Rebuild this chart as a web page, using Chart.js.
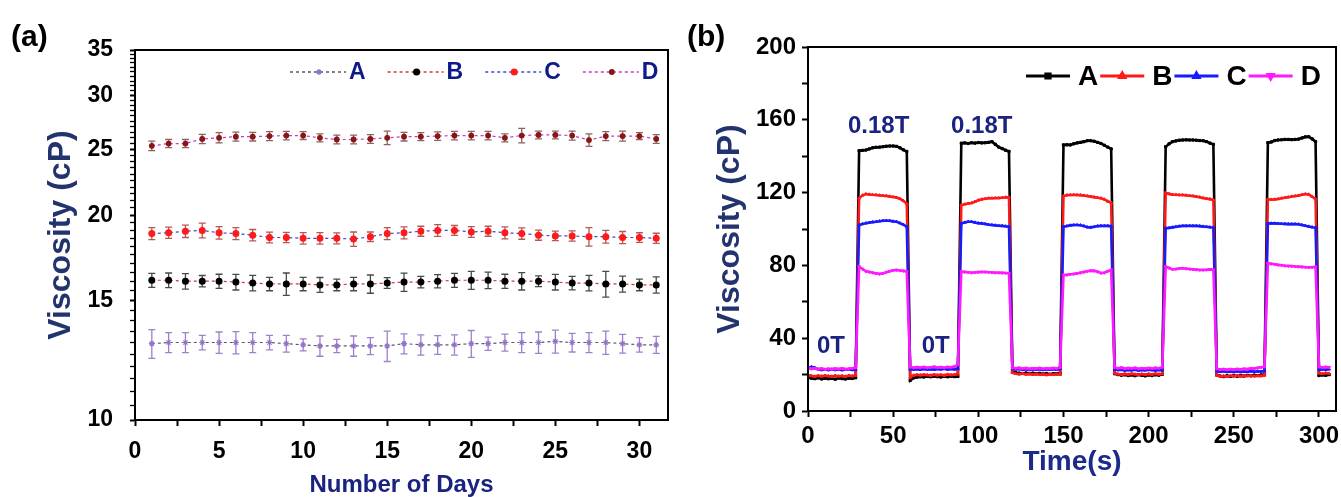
<!DOCTYPE html>
<html><head><meta charset="utf-8">
<script src="https://cdn.jsdelivr.net/npm/chart.js@4.4.1/dist/chart.umd.min.js"></script>
<style>
html,body{margin:0;padding:0;background:#fff;width:1341px;height:497px;overflow:hidden;}
#wa{position:absolute;left:0;top:0;width:680px;height:497px;}
#wb{position:absolute;left:680px;top:0;width:661px;height:497px;}
</style></head><body>
<div id="wa"><canvas id="ca" width="680" height="497"></canvas></div>
<div id="wb"><canvas id="cb" width="661" height="497"></canvas></div>
<script>
// ---------- Panel (a) data ----------
const days = [1,2,3,4,5,6,7,8,9,10,11,12,13,14,15,16,17,18,19,20,21,22,23,24,25,26,27,28,29,30,31];
const viscA = [12.95,13.0,13.0,13.0,13.0,13.0,13.0,13.0,12.95,12.9,12.85,12.85,12.85,12.85,12.85,12.95,12.9,12.9,12.9,12.95,12.95,13.0,13.0,13.0,13.05,13.0,13.0,13.0,12.95,12.9,12.9];
const errA  = [0.63,0.44,0.44,0.32,0.47,0.49,0.44,0.32,0.37,0.26,0.44,0.29,0.44,0.37,0.66,0.44,0.44,0.41,0.44,0.59,0.29,0.37,0.44,0.47,0.51,0.41,0.44,0.51,0.41,0.32,0.37];
const viscB = [16.05,16.05,16.0,16.0,16.0,15.95,15.9,15.85,15.85,15.85,15.8,15.8,15.85,15.85,15.9,15.95,15.95,16.0,16.05,16.05,16.05,16.0,16.0,16.0,15.95,15.9,15.9,15.85,15.85,15.8,15.8];
const errB  = [0.38,0.40,0.42,0.31,0.38,0.42,0.42,0.36,0.60,0.36,0.40,0.31,0.36,0.49,0.29,0.49,0.31,0.36,0.38,0.49,0.45,0.38,0.47,0.29,0.42,0.36,0.42,0.69,0.43,0.31,0.43];
const viscC = [18.8,18.85,18.95,19.0,18.85,18.8,18.7,18.55,18.55,18.5,18.5,18.5,18.45,18.6,18.8,18.85,18.95,19.0,19.0,18.9,18.95,18.85,18.8,18.7,18.65,18.65,18.6,18.6,18.55,18.55,18.5];
const errC  = [0.38,0.36,0.40,0.47,0.40,0.38,0.36,0.34,0.32,0.36,0.36,0.34,0.45,0.30,0.38,0.38,0.32,0.38,0.32,0.34,0.32,0.38,0.36,0.32,0.30,0.32,0.58,0.40,0.38,0.30,0.32];
const viscD = [25.3,25.5,25.5,25.9,26.0,26.1,26.1,26.15,26.2,26.2,26.0,25.85,25.85,25.9,26.0,26.1,26.1,26.15,26.2,26.2,26.2,26.0,26.2,26.25,26.25,26.2,25.8,26.15,26.15,26.15,25.9];
const errD  = [0.40,0.35,0.35,0.40,0.45,0.40,0.38,0.40,0.38,0.35,0.35,0.38,0.38,0.38,0.60,0.38,0.35,0.38,0.38,0.38,0.38,0.35,0.65,0.35,0.35,0.40,0.55,0.40,0.45,0.30,0.38];
const dayLabels  = [0,5,10,15,20,25,30];
const viscLabelsA = [10,15,20,25,30,35];

// ---------- Panel (b) data ----------
const timeB = [0,2,4,6,8,10,12,14,16,18,20,22,24,26,28,
30,32,34,36,38,40,42,44,46,48,50,52,54,56,58,
60,62,64,66,68,70,72,74,76,78,80,82,84,86,88,
90,92,94,96,98,100,102,104,106,108,110,112,114,116,118,
120,122,124,126,128,130,132,134,136,138,140,142,144,146,148,
150,152,154,156,158,160,162,164,166,168,170,172,174,176,178,
180,182,184,186,188,190,192,194,196,198,200,202,204,206,208,
210,212,214,216,218,220,222,224,226,228,230,232,234,236,238,
240,242,244,246,248,250,252,254,256,258,260,262,264,266,268,
270,272,274,276,278,280,282,284,286,288,290,292,294,296,298,
300,302,304,306];
const bA = [18.5,18.0,17.8,18.2,17.6,18.0,17.7,17.9,17.5,18.1,17.8,17.6,18.0,17.9,18.3,
143.0,143.2,143.4,144.0,144.6,144.9,145.0,145.2,145.5,145.6,145.6,145.4,144.6,143.5,142.6,
16.8,18.2,18.6,18.9,18.7,19.0,18.8,19.1,18.9,18.7,19.0,18.8,19.1,18.9,19.0,
147.1,147.3,147.0,147.4,147.2,147.5,147.3,147.4,147.6,148.0,146.5,145.0,144.2,143.3,142.6,
21.5,21.0,20.8,20.6,20.9,20.5,20.8,20.4,20.7,20.3,20.6,20.2,20.5,20.4,20.8,
146.2,146.3,146.2,146.8,147.3,147.6,148.0,148.5,148.5,148.2,147.6,147.0,146.0,145.0,144.0,
20.5,20.0,19.7,19.9,19.5,19.8,19.4,19.9,19.6,19.3,19.8,19.5,19.9,19.7,20.2,
145.2,146.8,148.0,148.4,148.8,148.9,149.0,148.9,148.9,148.8,148.6,148.5,148.0,147.2,146.5,
19.8,19.2,18.9,19.3,19.0,19.4,19.1,19.5,19.2,19.6,19.3,19.7,19.5,19.8,20.0,
147.4,147.8,148.6,148.9,149.0,149.2,149.2,149.1,149.2,149.4,150.0,150.6,150.7,149.5,148.0,
19.5,19.8,19.6,20.0];
const bB = [19.8,19.3,19.0,19.4,19.1,19.5,19.2,19.0,19.4,19.1,19.3,19.0,19.5,19.2,19.6,
116.9,118.5,119.2,119.0,118.8,118.7,118.5,118.3,118.2,117.9,117.6,117.3,116.6,115.5,113.8,
18.5,19.6,19.9,19.7,20.0,19.8,19.6,20.0,19.7,19.9,19.6,20.1,19.8,20.0,20.3,
113.2,113.6,114.0,114.3,115.0,115.8,116.3,116.6,116.9,116.9,117.0,117.0,117.2,117.4,117.4,
21.0,20.5,20.2,20.6,20.1,20.4,20.0,20.3,19.9,20.2,19.8,20.1,19.9,20.2,20.0,
118.1,118.6,118.7,118.8,118.7,118.6,118.4,118.1,117.8,117.5,117.2,116.9,116.3,115.2,114.5,
20.8,20.3,20.0,20.4,20.1,20.5,20.2,19.9,20.3,20.0,20.4,20.1,20.5,20.2,20.4,
119.8,119.3,118.9,118.8,118.7,118.7,118.5,118.3,118.1,117.8,117.5,117.0,116.7,116.4,116.0,
19.6,19.0,19.3,18.9,19.4,19.1,19.5,19.0,19.3,19.2,19.5,19.1,19.4,19.2,19.6,
116.3,116.2,116.3,116.5,116.9,117.2,117.5,117.9,118.1,118.4,118.8,119.2,119.0,117.8,116.5,
20.8,20.5,20.9,20.6];
const bC = [23.5,24.2,23.8,22.9,22.6,22.8,22.5,22.9,22.6,22.8,22.5,22.7,22.9,22.6,22.8,
102.2,102.8,103.2,103.5,103.8,104.0,104.3,104.5,104.6,104.5,104.2,104.0,103.2,102.4,101.3,
23.0,22.8,23.0,22.7,23.1,22.8,23.0,22.7,23.1,22.9,23.2,22.8,23.1,22.9,23.3,
103.1,103.6,104.0,104.0,103.6,103.2,103.1,102.8,102.4,102.2,102.0,101.8,101.7,101.5,101.3,
23.2,22.9,23.1,22.7,23.0,22.6,22.9,22.7,23.0,22.6,22.9,22.7,23.0,22.8,23.1,
101.3,101.6,102.0,102.2,102.2,102.1,101.6,101.0,100.9,101.2,101.6,101.7,101.7,101.7,101.5,
22.8,22.5,22.7,22.3,22.6,22.4,22.7,22.3,22.6,22.4,22.7,22.5,22.3,22.6,22.5,
100.4,100.6,100.9,101.2,101.5,101.7,101.7,101.8,101.7,101.7,101.6,101.4,101.2,101.0,100.9,
21.9,21.6,21.8,21.5,21.7,21.4,21.8,21.5,21.7,21.6,21.9,21.6,21.8,21.7,22.0,
103.1,103.1,103.1,103.0,102.9,102.8,102.7,102.7,102.7,102.6,102.2,101.8,101.4,101.0,100.8,
22.6,22.9,22.7,23.0];
const bD = [23.6,23.2,23.4,23.0,23.3,22.9,23.2,23.0,23.3,23.1,23.4,23.0,23.2,23.5,23.8,
79.3,78.0,76.8,76.4,76.0,75.6,75.3,75.6,76.3,76.8,77.3,77.5,77.2,77.0,76.6,
24.2,23.8,24.1,23.9,24.2,23.8,24.0,24.3,23.9,24.1,23.8,24.2,24.0,24.4,25.5,
76.6,76.4,76.2,76.0,76.1,76.3,76.4,76.4,76.2,76.1,76.0,76.0,75.9,75.8,75.6,
23.8,23.5,23.7,23.3,23.6,23.2,23.5,23.3,23.6,23.2,23.5,23.3,23.6,23.4,24.0,
74.7,74.8,75.1,75.3,75.6,76.0,76.4,76.8,77.1,77.0,76.5,75.8,76.0,76.8,77.5,
23.9,23.5,23.8,23.3,23.6,23.4,23.7,23.2,23.5,23.3,23.6,23.4,23.7,23.5,24.0,
79.3,78.6,77.8,78.0,78.3,78.4,78.2,78.0,77.8,77.7,77.5,77.5,77.6,77.8,77.6,
23.2,22.8,23.0,22.7,23.0,22.8,23.1,22.9,23.2,23.0,23.4,23.3,23.7,24.0,24.3,
81.2,80.9,80.6,80.3,80.1,79.8,79.7,79.6,79.4,79.3,79.2,79.0,78.9,79.0,79.2,
24.3,23.9,24.2,24.0];
const timeLabels = [0,50,100,150,200,250,300];
const viscLabelsB = [0,40,80,120,160,200];
const fieldText = ['0.18T','0.18T','0T','0T'];
const fieldTime = [41.5,102,13.5,75];
const fieldVisc = [156.5,156.5,35.6,35.6];

[bA,bB,bC,bD].forEach((s,i)=>{ if(s.length!==timeB.length) throw new Error('length mismatch series '+i+': '+s.length+' vs '+timeB.length); });

// ---------- common ----------
const FAM = "'Liberation Sans', Arial, Helvetica, sans-serif";
Chart.defaults.font.family = FAM;
Chart.defaults.color = '#000';

const framePlugin = { id:'frame', afterDraw(chart){
  const {ctx, chartArea:a} = chart; ctx.save(); ctx.strokeStyle='#000'; ctx.lineWidth=2;
  ctx.strokeRect(a.left, a.top, a.right-a.left, a.bottom-a.top); ctx.restore(); } };

const panelLabel = { id:'panelLabel', afterDraw(chart, args, opts){
  const ctx = chart.ctx; ctx.save(); ctx.fillStyle='#000'; ctx.font = 'bold 30px '+FAM;
  ctx.textAlign='left'; ctx.textBaseline='middle'; ctx.fillText(opts.text, opts.x, opts.y); ctx.restore(); } };

const errorBars = { id:'errorBars', beforeDatasetsDraw(chart){
  const {ctx, scales:{x,y}} = chart;
  chart.data.datasets.forEach(ds=>{
    if(!ds.errors) return;
    ctx.save(); ctx.strokeStyle = ds.errColor; ctx.lineWidth = 1.3;
    ds.data.forEach((p,i)=>{
      const px = x.getPixelForValue(p.x);
      const y1 = y.getPixelForValue(p.y + ds.errors[i]);
      const y2 = y.getPixelForValue(p.y - ds.errors[i]);
      ctx.beginPath();
      ctx.moveTo(px,y1); ctx.lineTo(px,y2);
      ctx.moveTo(px-3.5,y1); ctx.lineTo(px+3.5,y1);
      ctx.moveTo(px-3.5,y2); ctx.lineTo(px+3.5,y2);
      ctx.stroke();
    });
    ctx.restore();
  }); } };

function drawMarker(ctx, ds, x, y){
  Chart.helpers.drawPoint(ctx, {pointStyle: ds.pointStyle, rotation: ds.pointRotation||0, radius: ds.legendRadius||ds.pointRadius, borderWidth: ds.pointBorderWidth||1}, x, y);
}

const legendA = { id:'legendA', afterDraw(chart){
  const {ctx, chartArea:a} = chart; ctx.save();
  ctx.font = 'bold 23px '+FAM; ctx.textBaseline='middle'; ctx.textAlign='left';
  let x = a.right - 378; const y = a.top + 22;
  chart.data.datasets.forEach(ds=>{
    ctx.strokeStyle = ds.borderColor; ctx.lineWidth = 1.3; ctx.setLineDash([3,3]);
    ctx.beginPath(); ctx.moveTo(x,y); ctx.lineTo(x+56,y); ctx.stroke(); ctx.setLineDash([]);
    ctx.fillStyle = ds.pointBackgroundColor; ctx.strokeStyle = ds.pointBorderColor;
    drawMarker(ctx, ds, x+29, y);
    ctx.fillStyle = '#0f1a8a'; ctx.fillText(ds.label, x+59, y+1);
    x = x + 59 + ctx.measureText(ds.label).width + 22;
  });
  ctx.restore(); } };

const legendB = { id:'legendB', afterDraw(chart){
  const {ctx, chartArea:a} = chart; ctx.save();
  ctx.font = 'bold 28px '+FAM; ctx.textBaseline='middle'; ctx.textAlign='left';
  let x = a.right - 310; const y = a.top + 29;
  chart.data.datasets.forEach(ds=>{
    ctx.strokeStyle = ds.borderColor; ctx.lineWidth = 3;
    ctx.beginPath(); ctx.moveTo(x,y); ctx.lineTo(x+44,y); ctx.stroke();
    ctx.fillStyle = ds.pointBackgroundColor; ctx.strokeStyle = ds.pointBorderColor;
    drawMarker(ctx, ds, x+22, y);
    ctx.fillStyle = '#000'; ctx.fillText(ds.label, x+52, y+1);
    x = x + 52 + ctx.measureText(ds.label).width + 2;
  });
  ctx.restore(); } };

const fieldNotes = { id:'fieldNotes', afterDatasetsDraw(chart){
  const {ctx, scales:{x,y}} = chart; ctx.save();
  ctx.font = 'bold 24px '+FAM; ctx.fillStyle = '#1a2380'; ctx.textAlign='center'; ctx.textBaseline='middle';
  fieldText.forEach((t,i)=> ctx.fillText(t, x.getPixelForValue(fieldTime[i]), y.getPixelForValue(fieldVisc[i])));
  ctx.restore(); } };

function fixBox(w, h){
  return function(scale){
    if (w !== null) scale.width = w;
    if (h !== null) scale.height = h;
    scale.paddingLeft = 0; scale.paddingRight = 0; scale.paddingTop = 0; scale.paddingBottom = 0;
  };
}
function stepTicks(from, to, step){ return function(scale){ const t=[]; for(let v=from; v<=to+1e-9; v+=step) t.push({value: Math.round(v*100)/100}); scale.ticks = t; }; }
const labelIf = (list) => (v) => list.includes(Math.round(v*100)/100) ? String(v) : '';

// ---------- Chart (a) ----------
const styleA = [
  {label:'A', v:viscA, e:errA, line:'#5a5a5a', fill:'#a58fd8', edge:'#8f74c8', ps:'star', r:3, err:'#9c82cc'},
  {label:'B', v:viscB, e:errB, line:'#d03a3a', fill:'#000', edge:'#000', ps:'circle', r:2.9, err:'#4a4a4a'},
  {label:'C', v:viscC, e:errC, line:'#3a4ad0', fill:'#ff1a1a', edge:'#ff1a1a', ps:'circle', r:2.9, err:'#b45858'},
  {label:'D', v:viscD, e:errD, line:'#c43cc4', fill:'#8a1515', edge:'#8a1515', ps:'circle', r:2.3, err:'#8c6262'}
];
new Chart(document.getElementById('ca'), {
  type:'line',
  data:{ datasets: styleA.map(s=>({
    label:s.label, data: days.map((d,i)=>({x:d, y:s.v[i]})), errors:s.e, errColor:s.err,
    borderColor:s.line, borderWidth:1.2, borderDash:[3,3], fill:false, tension:0,
    pointStyle:s.ps, pointRadius:s.r, pointBackgroundColor:s.fill, pointBorderColor:s.edge, pointBorderWidth:1.2
  }))},
  options:{
    responsive:false, animation:false, events:[],
    layout:{ padding:{left:0, right:12, top:50, bottom:0} },
    plugins:{ legend:{display:false}, tooltip:{enabled:false}, panelLabel:{text:'(a)', x:11, y:38} },
    scales:{
      x:{ type:'linear', min:0, max:31.7,
        afterBuildTicks: stepTicks(0,30,2.5), afterFit: fixBox(null,77),
        ticks:{ autoSkip:false, maxRotation:0, padding:12, color:'#000', font:{size:23, weight:'bold'}, callback: labelIf(dayLabels) },
        grid:{ drawOnChartArea:false, tickLength:6, tickColor:'#000', tickWidth:2 },
        border:{ color:'#000', width:2 },
        title:{ display:true, text:'Number of Days', color:'#1a237e', font:{size:24, weight:'bold', lineHeight:1}, padding:{top:0,bottom:0} } },
      y:{ type:'logarithmic', min:10, max:35,
        afterBuildTicks: stepTicks(10,35,0.5), afterFit: fixBox(135,null),
        ticks:{ autoSkip:false, padding:17, color:'#000', font:{size:23, weight:'bold'}, callback: labelIf(viscLabelsA) },
        grid:{ drawOnChartArea:false, tickLength:5, tickColor:'#000', tickWidth:(c)=> (c.tick && viscLabelsA.includes(c.tick.value)) ? 2 : 1.3 },
        border:{ color:'#000', width:2 },
        title:{ display:true, text:'Viscosity (cP)', color:'#22336e', font:{size:32, weight:'bold', lineHeight:1}, padding:{top:45,bottom:0} } }
    }
  },
  plugins:[errorBars, framePlugin, legendA, panelLabel]
});

// ---------- Chart (b) ----------
const styleB = [
  {label:'A', v:bA, c:'#000000', ps:'rect', rot:0, order:4},
  {label:'B', v:bB, c:'#ff1a1a', ps:'triangle', rot:0, order:3},
  {label:'C', v:bC, c:'#1a1aff', ps:'triangle', rot:0, order:2},
  {label:'D', v:bD, c:'#ff1aff', ps:'triangle', rot:180, order:1}
];
new Chart(document.getElementById('cb'), {
  type:'line',
  data:{ datasets: styleB.map(s=>({
    label:s.label, data: timeB.map((t,i)=>({x:t, y:s.v[i]})), order:s.order,
    borderColor:s.c, borderWidth:2.6, fill:false, tension:0,
    pointStyle:s.ps, pointRotation:s.rot, pointRadius:1.6, legendRadius:3, pointBackgroundColor:s.c, pointBorderColor:s.c, pointBorderWidth:1
  }))},
  options:{
    responsive:false, animation:false, events:[],
    layout:{ padding:{left:0, right:5, top:47, bottom:0} },
    plugins:{ legend:{display:false}, tooltip:{enabled:false}, panelLabel:{text:'(b)', x:7, y:38} },
    scales:{
      x:{ type:'linear', min:0, max:310,
        afterBuildTicks: stepTicks(0,300,25), afterFit: fixBox(null,86),
        ticks:{ autoSkip:false, maxRotation:0, padding:5, color:'#000', font:{size:24, weight:'bold'}, callback: labelIf(timeLabels) },
        grid:{ drawOnChartArea:false, tickLength:6, tickColor:'#000', tickWidth:2 },
        border:{ color:'#000', width:2 },
        title:{ display:true, text:'Time(s)', color:'#1c2a8a', font:{size:28, weight:'bold', lineHeight:1}, padding:{top:0,bottom:21} } },
      y:{ type:'linear', min:0, max:200,
        afterBuildTicks: stepTicks(0,200,20), afterFit: fixBox(128,null),
        ticks:{ autoSkip:false, padding:6, color:'#000', font:{size:24, weight:'bold'}, callback: labelIf(viscLabelsB) },
        grid:{ drawOnChartArea:false, tickLength:6, tickColor:'#000', tickWidth:2 },
        border:{ color:'#000', width:2 },
        title:{ display:true, text:'Viscosity (cP)', color:'#22336e', font:{size:32, weight:'bold', lineHeight:1}, padding:{top:34,bottom:0} } }
    }
  },
  plugins:[framePlugin, legendB, fieldNotes, panelLabel]
});
</script>
</body></html>
